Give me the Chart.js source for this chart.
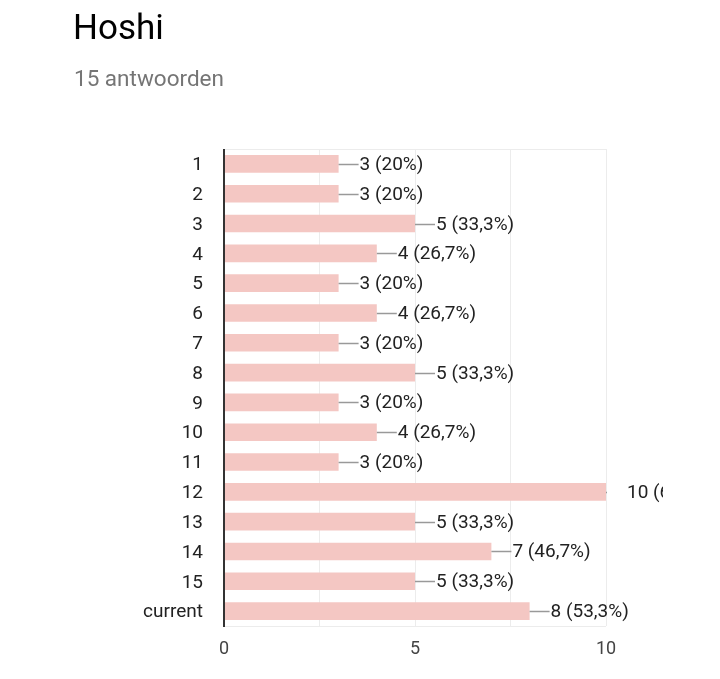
<!DOCTYPE html>
<html>
<head>
<meta charset="utf-8">
<script src="https://cdn.jsdelivr.net/npm/chart.js@4"></script>
<style>
  html, body { margin: 0; padding: 0; background: #fff; }
  #wrap { position: relative; width: 720px; height: 679px; overflow: hidden; }
  #title { position: absolute; left: 73px; top: 6px; font-family: Roboto, sans-serif; font-size: 35px; color: #000; line-height: 44px; }
  #sub { position: absolute; left: 74px; top: 64px; font-family: Roboto, sans-serif; font-size: 22.5px; color: #757575; line-height: 28px; }
  canvas { position: absolute; left: 0; top: 0; }
</style>
</head>
<body>
<div id="wrap">
  <canvas id="c" width="720" height="679"></canvas>
  <div id="title">Hoshi</div>
  <div id="sub">15 antwoorden</div>
</div>
<script>
const categories = ['1','2','3','4','5','6','7','8','9','10','11','12','13','14','15','current'];
const counts = [3,3,5,4,3,4,3,5,3,4,3,10,5,7,5,8];
const percentLabels = ['20%','20%','33,3%','26,7%','20%','26,7%','20%','33,3%','20%','26,7%','20%','66,7%','33,3%','46,7%','33,3%','53,3%'];
const xTicks = [0, 5, 10];

const labelPlugin = {
  id: 'barLabels',
  beforeDatasetsDraw(chart) {
    const ctx = chart.ctx, a = chart.chartArea;
    ctx.save();
    ctx.strokeStyle = '#ececec';
    ctx.lineWidth = 1;
    ctx.beginPath();
    ctx.moveTo(a.left, a.top + 0.5); ctx.lineTo(a.right, a.top + 0.5);
    ctx.moveTo(a.left, a.bottom + 0.5); ctx.lineTo(a.right, a.bottom + 0.5);
    ctx.stroke();
    ctx.restore();
  },
  afterDatasetsDraw(chart) {
    const ctx = chart.ctx, a = chart.chartArea;
    const meta = chart.getDatasetMeta(0);
    ctx.save();
    meta.data.forEach((bar, i) => {
      const x = bar.x, y = Math.round(bar.y);
      ctx.save();
      ctx.beginPath(); ctx.rect(a.left, 0, a.right - a.left + 1, chart.height); ctx.clip();
      ctx.strokeStyle = '#999'; ctx.lineWidth = 1.5;
      ctx.beginPath(); ctx.moveTo(x, y + 0.5); ctx.lineTo(x + 20, y + 0.5); ctx.stroke();
      ctx.restore();
      ctx.save();
      ctx.beginPath(); ctx.rect(0, 0, 663, chart.height); ctx.clip();
      ctx.fillStyle = '#222';
      ctx.font = '19px Roboto, sans-serif';
      ctx.textBaseline = 'middle';
      ctx.textAlign = 'left';
      ctx.fillText(counts[i] + ' (' + percentLabels[i] + ')', x + 21, y + 1.5);
      ctx.restore();
    });
    ctx.strokeStyle = '#333';
    ctx.lineWidth = 2;
    ctx.beginPath(); ctx.moveTo(a.left, a.top); ctx.lineTo(a.left, a.bottom + 1); ctx.stroke();
    ctx.restore();
  }
};

new Chart(document.getElementById('c'), {
  type: 'bar',
  data: {
    labels: categories,
    datasets: [{
      data: counts,
      backgroundColor: '#f4c7c3',
      borderWidth: 0,
      barPercentage: 0.59,
      categoryPercentage: 1.0
    }]
  },
  options: {
    indexAxis: 'y',
    responsive: false,
    animation: false,
    events: [],
    layout: { padding: { top: 149, right: 114, left: 0, bottom: 0 } },
    plugins: { legend: { display: false }, tooltip: { enabled: false } },
    scales: {
      x: {
        min: 0, max: 10,
        afterFit: s => { s.height = 53; },
        afterBuildTicks: s => { s.ticks = [0, 2.5, 5, 7.5, 10].map(v => ({ value: v })); },
        grid: { color: '#ececec', lineWidth: 1, drawTicks: false },
        border: { display: false },
        ticks: {
          padding: 13,
          color: '#444',
          font: { family: 'Roboto', size: 18 },
          callback: v => xTicks.includes(v) ? String(v) : ''
        }
      },
      y: {
        afterFit: s => { s.width = 224; },
        grid: { display: false, drawTicks: false },
        border: { display: false },
        ticks: {
          padding: 21,
          labelOffset: 1.5,
          color: '#222',
          font: { family: 'Roboto', size: 19 }
        }
      }
    }
  },
  plugins: [labelPlugin]
});
</script>
</body>
</html>
